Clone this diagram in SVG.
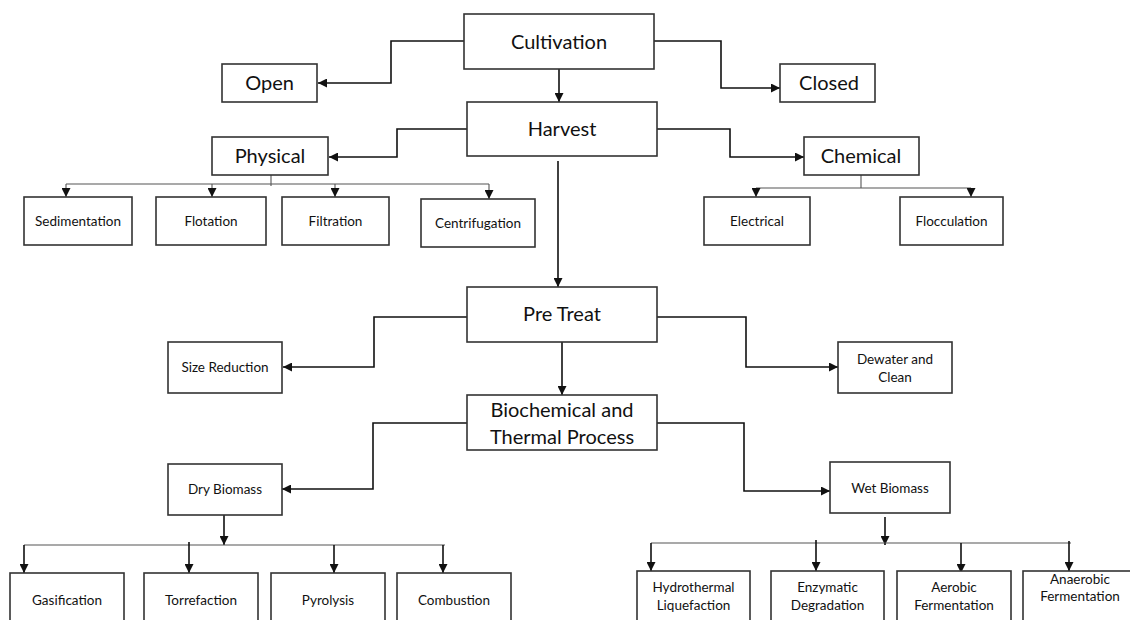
<svg xmlns="http://www.w3.org/2000/svg" width="1130" height="620" viewBox="0 0 1130 620">
<style>
rect{fill:#fff;stroke:#333;stroke-width:1.6}
text{font-family:Lato,"Liberation Sans",sans-serif;fill:#111;text-anchor:middle}
.L{font-size:20px}
.S{font-size:13.5px}
.c path{fill:none;stroke:#111;stroke-width:1.6}
.c path.t{stroke:#555;stroke-width:1.1}
</style>
<defs>
<marker id="a" markerUnits="userSpaceOnUse" markerWidth="9" markerHeight="9" refX="8" refY="4" orient="auto" viewBox="0 0 8 8"><path d="M0,0L8,4L0,8z" fill="#111"/></marker>
</defs>
<rect x="0" y="0" width="1130" height="620" style="stroke:none"/>
<g class="c">
<path d="M464,41H391V83H318" marker-end="url(#a)"/>
<path d="M654,41H721V88H780" marker-end="url(#a)"/>
<path d="M559,69V102" marker-end="url(#a)"/>
<path d="M468,129H397V157H329" marker-end="url(#a)"/>
<path d="M657,129H730V157H804" marker-end="url(#a)"/>
<path d="M558,161V287" marker-end="url(#a)"/>
<path class="t" d="M271,175V186"/>
<path class="t" d="M66,184H489"/>
<path class="t" d="M66,184V197" marker-end="url(#a)"/>
<path class="t" d="M212,184V197" marker-end="url(#a)"/>
<path class="t" d="M335,184V197" marker-end="url(#a)"/>
<path class="t" d="M489,184V199" marker-end="url(#a)"/>
<path class="t" d="M861,175V188"/>
<path class="t" d="M756,188H971"/>
<path class="t" d="M756,188V197" marker-end="url(#a)"/>
<path class="t" d="M971,188V197" marker-end="url(#a)"/>
<path d="M467,317H374V367H283" marker-end="url(#a)"/>
<path d="M657,317H746V367H838" marker-end="url(#a)"/>
<path d="M562,342V395" marker-end="url(#a)"/>
<path d="M467,423H373V489H282" marker-end="url(#a)"/>
<path d="M657,423H744V491H830" marker-end="url(#a)"/>
<path d="M224,515V545" marker-end="url(#a)"/>
<path class="t" d="M24,545H445"/>
<path d="M24,545V573" marker-end="url(#a)"/>
<path d="M189,542V573" marker-end="url(#a)"/>
<path d="M334,545V573" marker-end="url(#a)"/>
<path d="M443,545V573" marker-end="url(#a)"/>
<path d="M885,517V545" marker-end="url(#a)"/>
<path class="t" d="M651,543H1071"/>
<path d="M651,543V571" marker-end="url(#a)"/>
<path d="M816,540V571" marker-end="url(#a)"/>
<path d="M961,543V573" marker-end="url(#a)"/>
<path d="M1069,541V571" marker-end="url(#a)"/>
</g>
<g id="cultivation"><rect x="464" y="14" width="190" height="55"/><text class="L" x="559" y="49">Cultivation</text></g>
<g id="open"><rect x="222" y="64" width="95" height="38"/><text class="L" x="269.5" y="90">Open</text></g>
<g id="closed"><rect x="780" y="64" width="95" height="38"/><text class="L" x="829" y="90">Closed</text></g>
<g id="harvest"><rect x="467" y="102" width="190" height="54"/><text class="L" x="562" y="136">Harvest</text></g>
<g id="physical"><rect x="212" y="137" width="116" height="38"/><text class="L" x="270" y="163">Physical</text></g>
<g id="chemical"><rect x="804" y="137" width="115" height="38"/><text class="L" x="861" y="163">Chemical</text></g>
<g id="sedimentation"><rect x="24" y="197" width="108" height="48"/><text class="S" x="78" y="226">Sedimentation</text></g>
<g id="flotation"><rect x="156" y="197" width="110" height="48"/><text class="S" x="211" y="226">Flotation</text></g>
<g id="filtration"><rect x="282" y="197" width="107" height="48"/><text class="S" x="335.5" y="226">Filtration</text></g>
<g id="centrifugation"><rect x="421" y="199" width="114" height="48"/><text class="S" x="478" y="228">Centrifugation</text></g>
<g id="electrical"><rect x="704" y="197" width="106" height="48"/><text class="S" x="757" y="226">Electrical</text></g>
<g id="flocculation"><rect x="900" y="197" width="103" height="48"/><text class="S" x="951.5" y="226">Flocculation</text></g>
<g id="pretreat"><rect x="467" y="287" width="190" height="55"/><text class="L" x="562" y="321">Pre Treat</text></g>
<g id="sizereduction"><rect x="168" y="342" width="114" height="51"/><text class="S" x="225" y="372">Size Reduction</text></g>
<g id="dewater"><rect x="838" y="342" width="114" height="51"/><text class="S" x="895" y="364">Dewater and</text><text class="S" x="895" y="382">Clean</text></g>
<g id="biochemical"><rect x="467" y="395" width="190" height="55"/><text class="L" x="562" y="417">Biochemical and</text><text class="L" x="562" y="444">Thermal Process</text></g>
<g id="drybiomass"><rect x="168" y="464" width="114" height="51"/><text class="S" x="225" y="494">Dry Biomass</text></g>
<g id="wetbiomass"><rect x="830" y="462" width="120" height="51"/><text class="S" x="890" y="493">Wet Biomass</text></g>
<g id="gasification"><rect x="10" y="573" width="114" height="60"/><text class="S" x="67" y="605">Gasification</text></g>
<g id="torrefaction"><rect x="144" y="573" width="114" height="60"/><text class="S" x="201" y="605">Torrefaction</text></g>
<g id="pyrolysis"><rect x="271" y="573" width="114" height="60"/><text class="S" x="328" y="605">Pyrolysis</text></g>
<g id="combustion"><rect x="397" y="573" width="114" height="60"/><text class="S" x="454" y="605">Combustion</text></g>
<g id="hydrothermal"><rect x="637" y="571" width="113" height="60"/><text class="S" x="693.5" y="592">Hydrothermal</text><text class="S" x="693.5" y="610">Liquefaction</text></g>
<g id="enzymatic"><rect x="771" y="571" width="113" height="60"/><text class="S" x="827.5" y="592">Enzymatic</text><text class="S" x="827.5" y="610">Degradation</text></g>
<g id="aerobic"><rect x="897" y="571" width="114" height="60"/><text class="S" x="954" y="592">Aerobic</text><text class="S" x="954" y="610">Fermentation</text></g>
<g id="anaerobic"><rect x="1023" y="571" width="117" height="60"/><text class="S" x="1080" y="584">Anaerobic</text><text class="S" x="1080" y="601">Fermentation</text></g>
</svg>
